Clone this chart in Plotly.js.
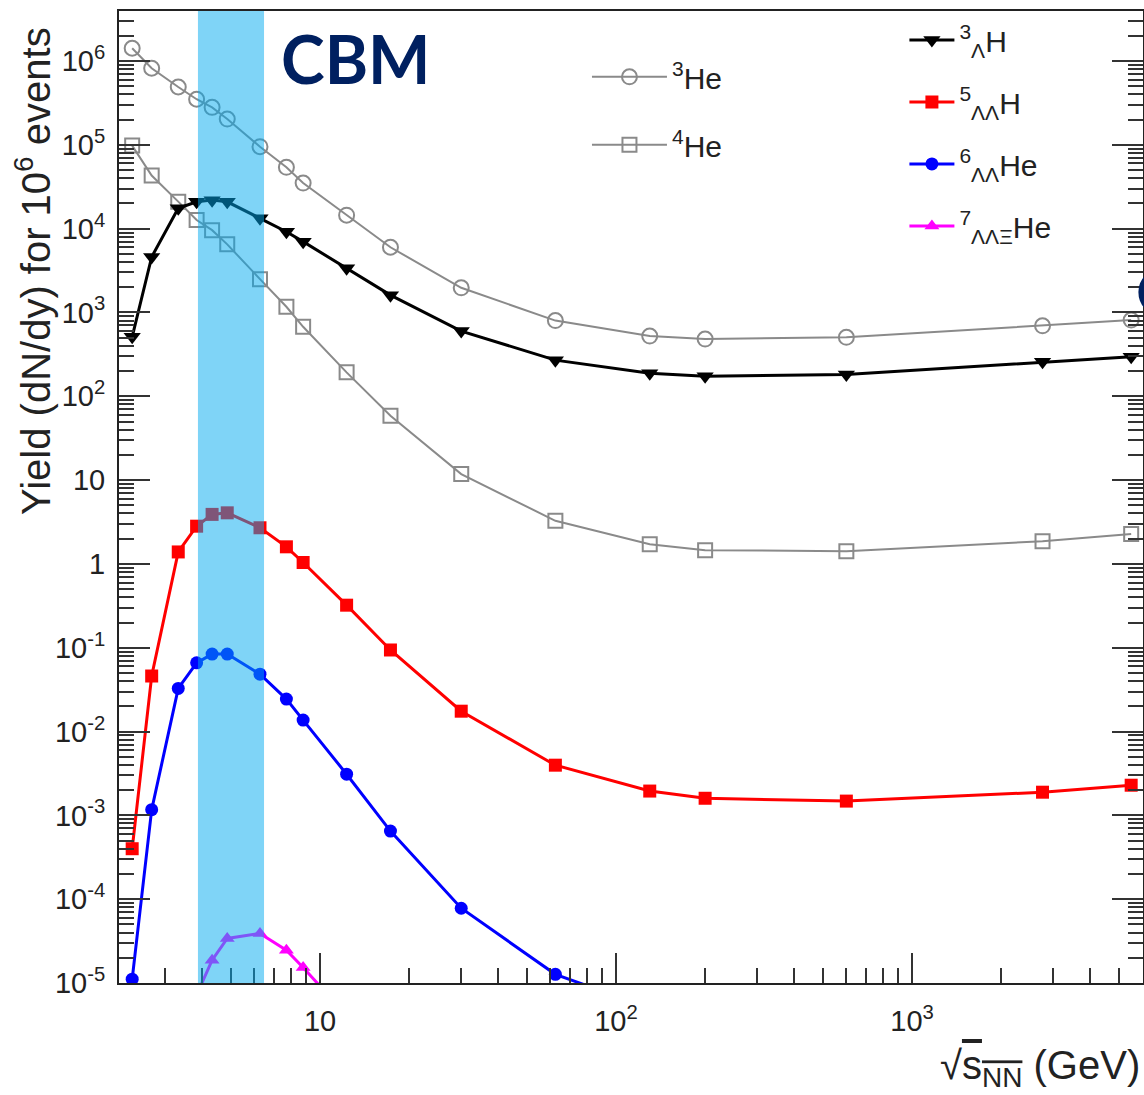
<!DOCTYPE html>
<html>
<head>
<meta charset="utf-8">
<script src="https://cdn.plot.ly/plotly-3.0.1.min.js"></script>
<style>
html, body { margin: 0; padding: 0; background: #ffffff; }
#chart { width: 1144px; height: 1095px; }
</style>
</head>
<body>
<div id="chart"></div>
<script>
// ---- data ----
const energies = [2.32, 2.7, 3.32, 3.83, 4.32, 4.86, 6.27, 7.7, 8.77, 12.3, 17.3, 30, 62.4, 130, 200, 600, 2760, 5500];
const yieldHe3 = [1.42e6, 8.2e5, 4.9e5, 3.5e5, 2.8e5, 2.03e5, 9.5e4, 5.4e4, 3.5e4, 1.45e4, 6.0e3, 1.97e3, 800, 523, 482, 505, 693, 811];
const yieldHe4 = [9.8e4, 4.3e4, 2.1e4, 1.27e4, 9.6e3, 6.5e3, 2.5e3, 1.17e3, 675, 193, 58.5, 11.8, 3.27, 1.72, 1.46, 1.42, 1.87, 2.27];
const yieldH3L = [513, 4.6e3, 1.75e4, 2.09e4, 2.19e4, 2.09e4, 1.33e4, 9.2e3, 7.0e3, 3.36e3, 1.61e3, 600, 270, 188, 174, 182, 258, 296];
const yieldH5LL = [4.0e-4, 0.046, 1.39, 2.82, 3.9, 4.07, 2.7, 1.6, 1.04, 0.322, 0.094, 0.0175, 3.97e-3, 1.95e-3, 1.6e-3, 1.48e-3, 1.89e-3, 2.29e-3];
const energiesHe6LL = [2.32, 2.7, 3.32, 3.83, 4.32, 4.86, 6.27, 7.7, 8.77, 12.3, 17.3, 30, 62.4, 130];
const yieldHe6LL = [1.11e-5, 1.17e-3, 0.0327, 0.066, 0.084, 0.084, 0.0484, 0.0244, 0.0137, 3.1e-3, 6.5e-4, 7.8e-5, 1.27e-5, 5e-6];
const energiesHe7LLXi = [3.83, 4.32, 4.86, 6.27, 7.7, 8.77, 12.3];
const yieldHe7LLXi = [7.2e-6, 1.87e-5, 3.4e-5, 3.9e-5, 2.46e-5, 1.53e-5, 4.1e-6];

const cbmBand = [3.87, 6.47];

const xTickVals = [10, 100, 1000];
const xTickText = ['10', '10<sup>2</sup>', '10<sup>3</sup>'];
const yTickVals = [1e-5, 1e-4, 1e-3, 1e-2, 1e-1, 1, 10, 1e2, 1e3, 1e4, 1e5, 1e6];
const yTickText = ['10<sup>-5</sup>', '10<sup>-4</sup>', '10<sup>-3</sup>', '10<sup>-2</sup>', '10<sup>-1</sup>', '1', '10',
                   '10<sup>2</sup>', '10<sup>3</sup>', '10<sup>4</sup>', '10<sup>5</sup>', '10<sup>6</sup>'];

const FONT = 'Liberation Sans, Arial, Helvetica, sans-serif';
const GRAY = '#8a8a8a';

const traces = [
  { x: energies, y: yieldHe3, name: '<sup>3</sup>He', legend: 'legend', legendgroup: 'a',
    mode: 'lines+markers', line: { color: GRAY, width: 2 },
    marker: { symbol: 'circle-open', size: 15, color: GRAY, line: { width: 2, color: GRAY } } },
  { x: energies, y: yieldHe4, name: '<sup>4</sup>He', legend: 'legend', legendgroup: 'b',
    mode: 'lines+markers', line: { color: GRAY, width: 2 },
    marker: { symbol: 'square-open', size: 14, color: GRAY, line: { width: 2, color: GRAY } } },
  { x: energies, y: yieldH3L, name: '<sup>3</sup><sub>Λ</sub>H', legend: 'legend2', legendgroup: 'c',
    mode: 'lines+markers', line: { color: '#000000', width: 3 },
    marker: { symbol: 'triangle-down', size: 15, color: '#000000' } },
  { x: energies, y: yieldH5LL, name: '<sup>5</sup><sub>ΛΛ</sub>H', legend: 'legend2', legendgroup: 'd',
    mode: 'lines+markers', line: { color: '#ff0000', width: 3 },
    marker: { symbol: 'square', size: 13, color: '#ff0000' } },
  { x: energiesHe6LL, y: yieldHe6LL, name: '<sup>6</sup><sub>ΛΛ</sub>He', legend: 'legend2', legendgroup: 'e',
    mode: 'lines+markers', line: { color: '#0000ff', width: 3 },
    marker: { symbol: 'circle', size: 13, color: '#0000ff' } },
  { x: energiesHe7LLXi, y: yieldHe7LLXi, name: '<sup>7</sup><sub>ΛΛΞ</sub>He', legend: 'legend2', legendgroup: 'f',
    mode: 'lines+markers', line: { color: '#ff00ff', width: 3 },
    marker: { symbol: 'triangle-up', size: 13, color: '#ff00ff' } }
];

const axisCommon = {
  type: 'log',
  showgrid: false,
  zeroline: false,
  showline: true,
  linecolor: '#222222',
  linewidth: 2,
  ticks: 'inside',
  tickcolor: '#333333',
  tickwidth: 1.5,
  tickmode: 'array',
  tickfont: { family: FONT, size: 29, color: '#222222' }
};

const layout = {
  width: 1144,
  height: 1095,
  margin: { l: 119, r: 1, t: 11, b: 112 },
  paper_bgcolor: '#ffffff',
  plot_bgcolor: '#ffffff',
  font: { family: FONT, color: '#222222' },
  showlegend: true,
  xaxis: Object.assign({}, axisCommon, {
    range: [Math.log10(2.094), Math.log10(6030)],
    tickvals: xTickVals,
    ticktext: xTickText,
    ticklen: 30,
    mirror: true,
    ticklabelstandoff: 11,
    minor: { dtick: 'D1', ticks: 'inside', ticklen: 15, tickcolor: '#333333', tickwidth: 1.5, showgrid: false }
  }),
  yaxis: Object.assign({}, axisCommon, {
    range: [-5, 6.597],
    tickvals: yTickVals,
    ticktext: yTickText,
    ticklen: 31,
    mirror: 'allticks',
    ticklabelstandoff: 6,
    minor: { dtick: 'D1', ticks: 'inside', ticklen: 15, tickcolor: '#333333', tickwidth: 1.5, showgrid: false }
  }),
  legend: {
    x: 0.457, y: 0.959, xanchor: 'left', yanchor: 'top',
    bgcolor: 'rgba(0,0,0,0)', borderwidth: 0,
    font: { family: FONT, size: 30, color: '#222222' },
    itemwidth: 75, tracegroupgap: 26
  },
  legend2: {
    x: 0.767, y: 0.997, xanchor: 'left', yanchor: 'top',
    bgcolor: 'rgba(0,0,0,0)', borderwidth: 0,
    font: { family: FONT, size: 30, color: '#222222' },
    itemwidth: 45, tracegroupgap: 20
  },
  shapes: [
    { type: 'rect', xref: 'x', yref: 'paper', x0: cbmBand[0], x1: cbmBand[1], y0: 0, y1: 1,
      fillcolor: 'rgba(0,169,239,0.5)', line: { width: 0 }, layer: 'above' }
  ],
  annotations: [
    { text: '<b>CBM</b>', xref: 'paper', yref: 'paper', x: 0.156, y: 0.951, xanchor: 'left', yanchor: 'middle',
      showarrow: false, font: { family: 'Lato, Open Sans, sans-serif', size: 66, color: '#002060' } },
    { text: '<b>C</b>', xref: 'paper', yref: 'paper', x: 0.991, y: 0.713, xanchor: 'left', yanchor: 'middle',
      showarrow: false, font: { family: 'Lato, Open Sans, sans-serif', size: 62, color: '#002060' } },
    { text: 'Yield (dN/dy) for 10<sup>6</sup> events', xref: 'paper', yref: 'paper', x: -0.084, y: 0.7325,
      xanchor: 'center', yanchor: 'middle', textangle: -90, showarrow: false,
      font: { family: FONT, size: 40, color: '#222222' } },
    { text: '√<span style="text-decoration:overline">s<sub>NN</sub></span> (GeV)', xref: 'paper', yref: 'paper',
      x: 0.999, y: -0.087, xanchor: 'right', yanchor: 'middle', showarrow: false,
      font: { family: FONT, size: 40, color: '#222222' } }
  ]
};

Plotly.newPlot('chart', traces, layout, { displayModeBar: false, responsive: false });
</script>
</body>
</html>
